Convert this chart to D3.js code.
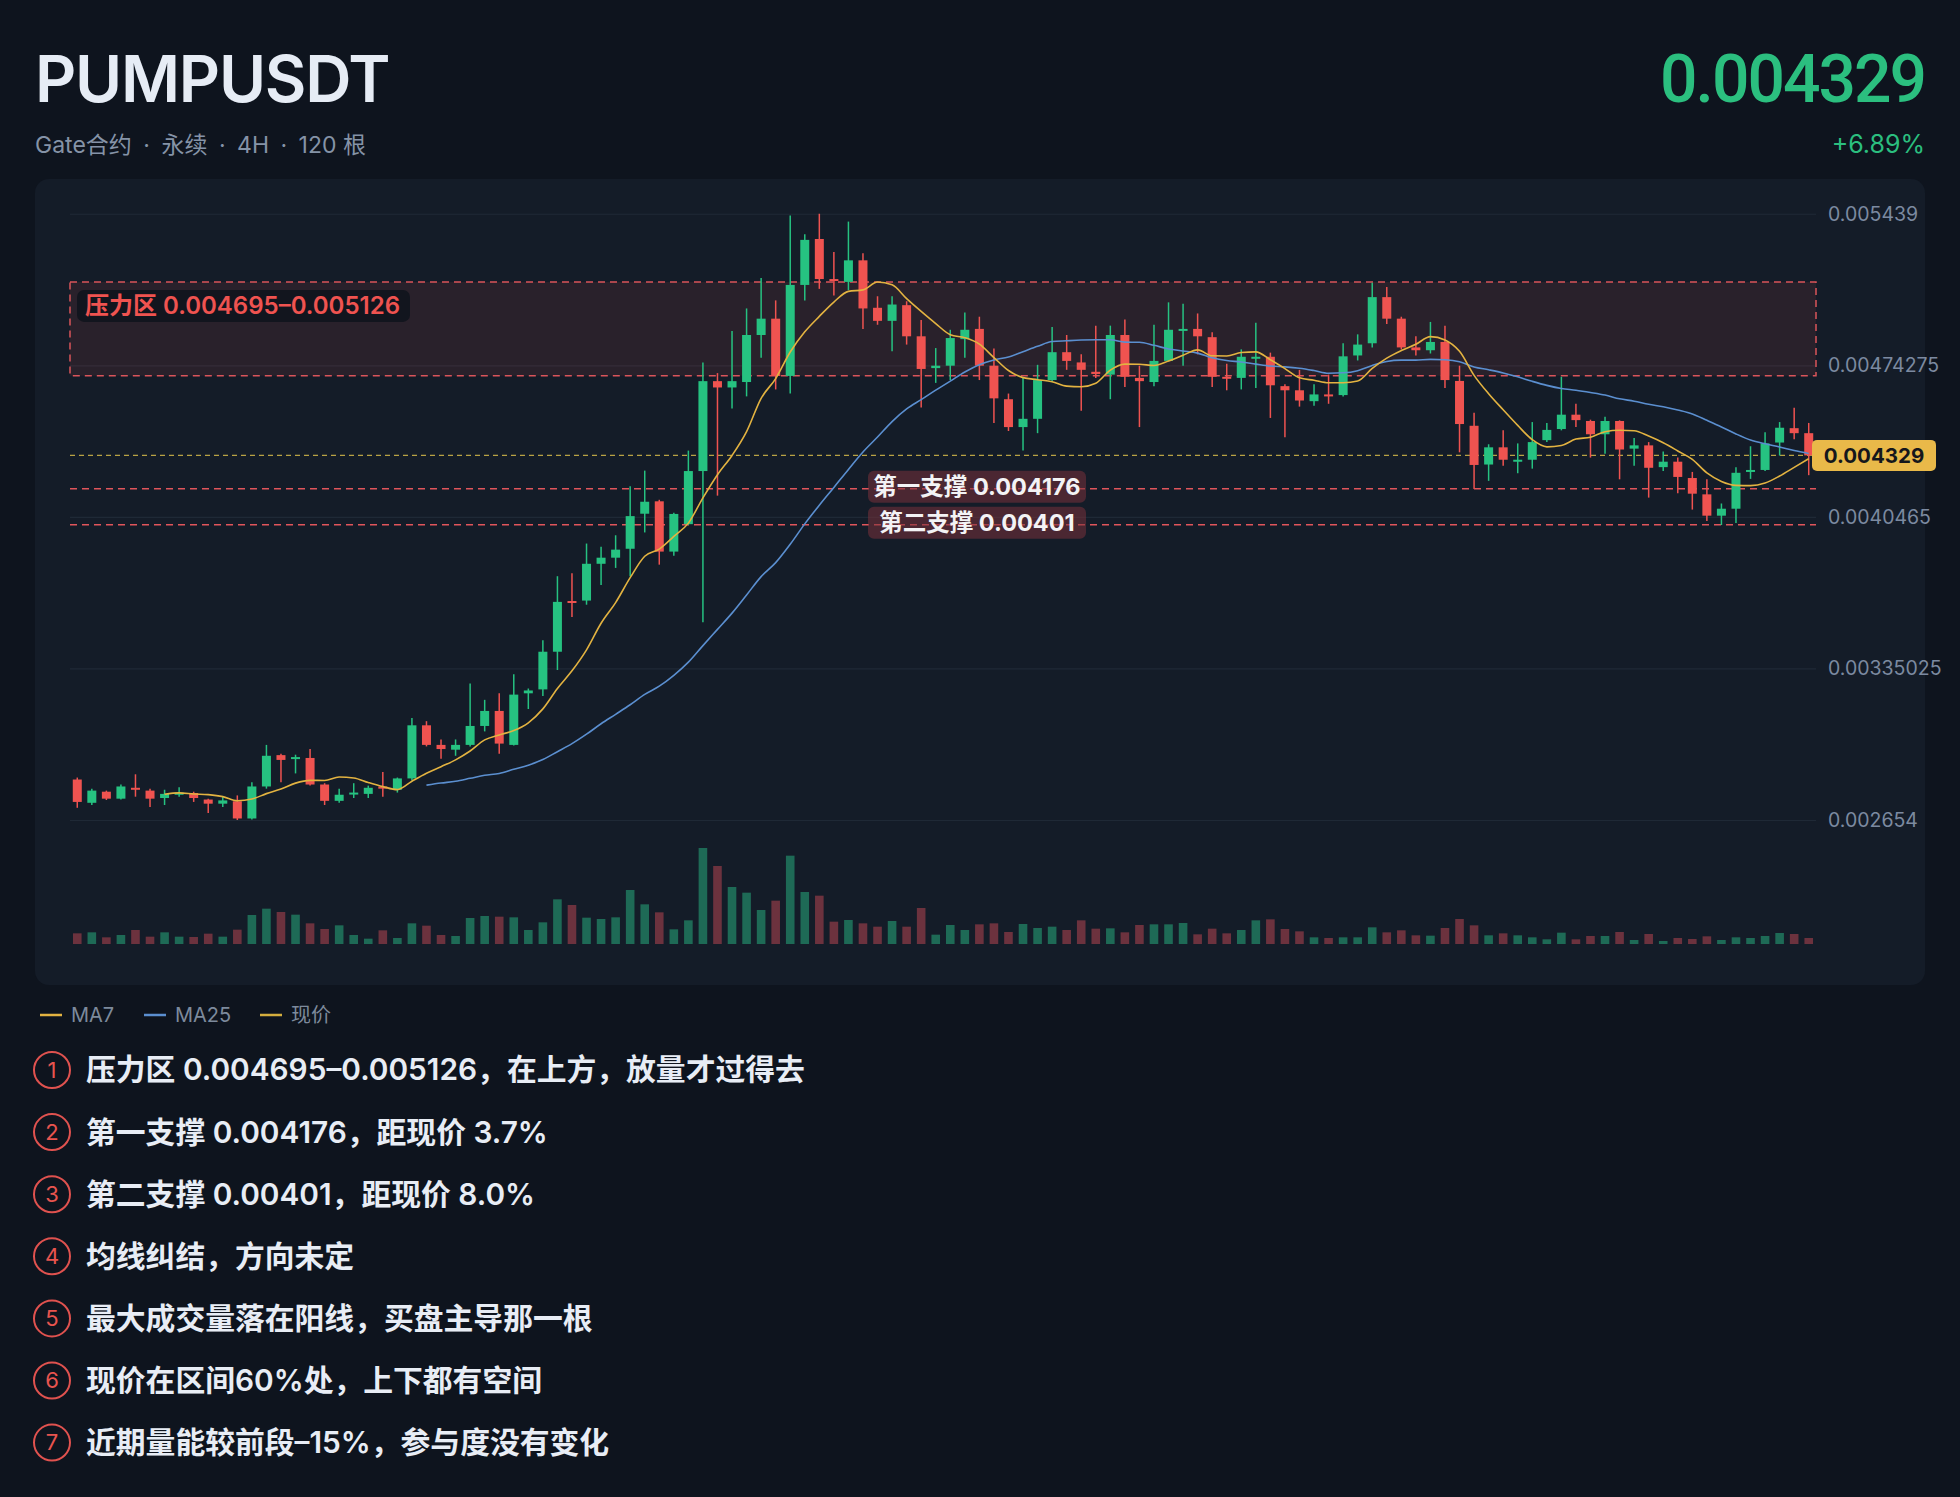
<!DOCTYPE html>
<html><head><meta charset="utf-8">
<script src="https://cdn.jsdelivr.net/npm/d3@7"></script>
<style>
html,body{margin:0;padding:0;background:#0e141e;}
svg{display:block;}
</style></head>
<body>
<svg id="chart" width="1960" height="1497"></svg>
<script>
// ---------------- DATA ----------------
const symbol = "PUMPUSDT";
const subtitle = "Gate合约\u2002·\u2002永续\u2002·\u20024H\u2002·\u2002120 根";
const lastPriceLabel = "0.004329";
const changeLabel = "+6.89%";

const opens = [
0.002840,0.002733,0.002784,0.002752,0.002802,0.002789,0.002755,0.002770,0.002778,0.002748,
0.002729,0.002740,0.002661,0.002808,0.002952,0.002935,0.002939,0.002817,0.002742,0.002774,
0.002774,0.002808,0.002793,0.002845,0.003089,0.002999,0.002977,0.002999,0.003086,0.003155,
0.002999,0.003236,0.003254,0.003427,0.003660,0.003662,0.003831,0.003859,0.003900,0.004061,
0.004118,0.003887,0.004013,0.004257,0.004670,0.004641,0.004666,0.004882,0.004957,0.004694,
0.005112,0.005323,0.005139,0.005126,0.005225,0.005007,0.004947,0.005019,0.004876,0.004730,
0.004741,0.004863,0.004910,0.004741,0.004587,0.004459,0.004497,0.004675,0.004803,0.004756,
0.004713,0.004700,0.004882,0.004685,0.004666,0.004763,0.004904,0.004910,0.004872,0.004690,
0.004685,0.004775,0.004782,0.004647,0.004628,0.004578,0.004609,0.004606,0.004788,0.004844,
0.005056,0.004957,0.004825,0.004812,0.004850,0.004671,0.004465,0.004287,0.004366,0.004300,
0.004309,0.004399,0.004450,0.004516,0.004487,0.004426,0.004487,0.004360,0.004375,0.004275,
0.004300,0.004225,0.004150,0.004052,0.004084,0.004253,0.004262,0.004388,0.004454,0.004431];

const highs = [
0.002849,0.002798,0.002789,0.002817,0.002864,0.002798,0.002793,0.002804,0.002784,0.002752,
0.002761,0.002767,0.002827,0.002999,0.002958,0.002954,0.002980,0.002823,0.002798,0.002823,
0.002812,0.002874,0.002849,0.003123,0.003108,0.003024,0.003024,0.003281,0.003206,0.003236,
0.003324,0.003258,0.003480,0.003774,0.003787,0.003924,0.003909,0.003962,0.004187,0.004259,
0.004125,0.004065,0.004351,0.004756,0.004707,0.004900,0.005004,0.005144,0.005041,0.005431,
0.005345,0.005439,0.005263,0.005403,0.005257,0.005060,0.005060,0.005037,0.004951,0.004822,
0.004906,0.004985,0.004966,0.004820,0.004613,0.004688,0.004745,0.004919,0.004882,0.004793,
0.004925,0.004925,0.004953,0.004741,0.004929,0.005032,0.005026,0.004981,0.004895,0.004750,
0.004816,0.004938,0.004801,0.004656,0.004722,0.004656,0.004700,0.004844,0.004885,0.005122,
0.005103,0.004966,0.004876,0.004942,0.004925,0.004741,0.004525,0.004380,0.004444,0.004384,
0.004482,0.004478,0.004690,0.004566,0.004493,0.004506,0.004490,0.004409,0.004390,0.004347,
0.004319,0.004253,0.004219,0.004108,0.004275,0.004371,0.004435,0.004482,0.004548,0.004478];

const lows = [
0.002710,0.002723,0.002746,0.002748,0.002761,0.002714,0.002723,0.002761,0.002737,0.002686,
0.002714,0.002654,0.002656,0.002798,0.002827,0.002868,0.002812,0.002723,0.002733,0.002755,
0.002755,0.002761,0.002780,0.002836,0.002992,0.002935,0.002949,0.002992,0.003061,0.002958,
0.002996,0.003164,0.003224,0.003343,0.003587,0.003643,0.003733,0.003812,0.003774,0.003975,
0.003827,0.003868,0.004009,0.003562,0.004144,0.004544,0.004600,0.004778,0.004632,0.004613,
0.005041,0.005094,0.005064,0.005088,0.004910,0.004929,0.004807,0.004838,0.004549,0.004662,
0.004675,0.004778,0.004675,0.004478,0.004441,0.004351,0.004431,0.004670,0.004722,0.004534,
0.004685,0.004587,0.004643,0.004459,0.004647,0.004760,0.004741,0.004793,0.004643,0.004628,
0.004632,0.004638,0.004501,0.004412,0.004553,0.004557,0.004566,0.004600,0.004765,0.004825,
0.004932,0.004816,0.004788,0.004797,0.004638,0.004343,0.004174,0.004212,0.004281,0.004247,
0.004268,0.004390,0.004444,0.004459,0.004319,0.004337,0.004219,0.004281,0.004135,0.004257,
0.004155,0.004080,0.004028,0.004009,0.004018,0.004221,0.004257,0.004328,0.004403,0.004238];

const closes = [
0.002737,0.002789,0.002752,0.002808,0.002795,0.002752,0.002774,0.002780,0.002755,0.002729,
0.002744,0.002661,0.002808,0.002949,0.002930,0.002943,0.002817,0.002742,0.002770,0.002780,
0.002802,0.002798,0.002845,0.003089,0.002999,0.002980,0.002999,0.003086,0.003155,0.003005,
0.003230,0.003249,0.003427,0.003656,0.003652,0.003831,0.003859,0.003896,0.004050,0.004116,
0.003887,0.004060,0.004257,0.004670,0.004641,0.004670,0.004882,0.004957,0.004694,0.005112,
0.005319,0.005139,0.005131,0.005225,0.005004,0.004947,0.005022,0.004876,0.004726,0.004741,
0.004868,0.004906,0.004741,0.004591,0.004459,0.004497,0.004675,0.004803,0.004763,0.004722,
0.004703,0.004882,0.004690,0.004670,0.004763,0.004906,0.004910,0.004876,0.004690,0.004685,
0.004782,0.004782,0.004651,0.004628,0.004581,0.004609,0.004604,0.004784,0.004838,0.005056,
0.004957,0.004825,0.004812,0.004850,0.004675,0.004473,0.004285,0.004366,0.004309,0.004309,
0.004390,0.004446,0.004516,0.004491,0.004426,0.004487,0.004356,0.004375,0.004272,0.004300,
0.004230,0.004153,0.004052,0.004084,0.004249,0.004262,0.004384,0.004456,0.004431,0.004329];

const volumes = [
32,35,20,27,42,22,35,22,21,31,
22,43,87,106,96,88,62,45,56,27,
16,41,18,62,55,27,24,78,84,82,
80,42,65,134,117,79,75,80,162,119,
95,44,71,288,234,171,154,102,130,265,
156,145,67,72,62,52,69,52,108,28,
57,42,59,62,36,60,48,52,42,71,
46,47,35,57,59,59,63,29,46,32,
42,71,74,45,38,20,18,20,20,50,
35,41,26,25,48,75,56,26,32,26,
20,14,34,14,24,24,36,12,30,9,
18,15,23,12,20,18,24,33,30,18];

const priceTicks = [0.005439, 0.00474275, 0.0040465, 0.00335025, 0.002654];
const tickLabels = ["0.005439", "0.00474275", "0.0040465", "0.00335025", "0.002654"];

const pressureZone = [0.004695, 0.005126];
const pressureLabel = "压力区 0.004695–0.005126";
const supports = [0.004176, 0.00401];
const supportLabels = ["第一支撑 0.004176", "第二支撑 0.00401"];
const lastPrice = 0.004329;

const legendItems = ["MA7", "MA25", "现价"];
const notes = [
  "压力区 0.004695–0.005126，在上方，放量才过得去",
  "第一支撑 0.004176，距现价 3.7%",
  "第二支撑 0.00401，距现价 8.0%",
  "均线纠结，方向未定",
  "最大成交量落在阳线，买盘主导那一根",
  "现价在区间60%处，上下都有空间",
  "近期量能较前段–15%，参与度没有变化"
];

// ---------------- STYLE ----------------
const FONT = "Inter, 'Noto Sans CJK SC', sans-serif";
const C = {
  bg: "#0e141e", panel: "#141c28", grid: "#1f2936",
  up: "#26c281", down: "#ef5350",
  volUp: "#1e6a56", volDown: "#6c323e",
  ma7: "#e3b341", ma25: "#5b8fd0", last: "#e9b949",
  axis: "#7c8aa0", title: "#e6ecf5", sub: "#8593a7", green: "#2bbf7f",
  red: "#ef5350"
};

const svg = d3.select("#chart");
svg.append("rect").attr("width",1960).attr("height",1497).attr("fill",C.bg);

// header
svg.append("text").attr("x",35).attr("y",102).attr("font-family",FONT).attr("font-size",64)
  .attr("font-weight",600).attr("letter-spacing",-1.2).attr("fill",C.title).text(symbol);
svg.append("text").attr("x",1925).attr("y",102).attr("text-anchor","end").attr("font-family","Roboto, Inter, sans-serif")
  .attr("font-size",66).attr("font-weight",500).attr("letter-spacing",-2).attr("fill",C.green).text(lastPriceLabel);
svg.append("text").attr("x",35).attr("y",153).attr("font-family",FONT).attr("font-size",23)
  .attr("fill",C.sub).text(subtitle);
svg.append("text").attr("x",1925).attr("y",153).attr("text-anchor","end").attr("font-family",FONT)
  .attr("font-size",25).attr("fill",C.green).text(changeLabel);

// panel
svg.append("rect").attr("x",35).attr("y",179).attr("width",1890).attr("height",806)
  .attr("rx",14).attr("fill",C.panel);

const x0 = 70, x1 = 1816;
const idx = d3.range(closes.length);
const x = d3.scaleBand().domain(idx).range([x0, x1]).padding(0);
const y = d3.scaleLinear().domain([0.002654, 0.005439]).range([820, 213.75]);
const yv = d3.scaleLinear().domain([0, d3.max(volumes)]).range([944, 848]);
const cx = i => x(i) + x.bandwidth()/2;

// grid
const gridG = svg.append("g").attr("transform",`translate(${x0},0)`)
  .call(d3.axisLeft(y).tickValues(priceTicks).tickSize(-(x1-x0)).tickFormat(""));
gridG.select(".domain").remove();
gridG.selectAll("line").attr("stroke",C.grid).attr("stroke-width",1.2);

// right axis labels
const axG = svg.append("g").attr("transform",`translate(${x1},0)`)
  .call(d3.axisRight(y).tickValues(priceTicks).tickSize(0).tickPadding(12)
    .tickFormat((d,i)=>tickLabels[i]));
axG.select(".domain").remove();
axG.selectAll("text").attr("font-family",FONT).attr("font-size",19.5).attr("fill",C.axis);

// pressure zone
svg.append("rect").attr("x",x0).attr("width",x1-x0)
  .attr("y",y(pressureZone[1])).attr("height",y(pressureZone[0])-y(pressureZone[1]))
  .attr("fill","rgba(239,83,80,0.10)").attr("stroke","#d9545a").attr("stroke-width",1.5)
  .attr("stroke-dasharray","7,5");

// support lines + last price line
svg.selectAll("line.sup").data(supports).join("line").attr("class","sup")
  .attr("x1",x0).attr("x2",x1).attr("y1",d=>y(d)).attr("y2",d=>y(d))
  .attr("stroke","#e0555b").attr("stroke-width",1.5).attr("stroke-dasharray","7,5");
svg.append("line").attr("x1",x0).attr("x2",x1).attr("y1",y(lastPrice)).attr("y2",y(lastPrice))
  .attr("stroke","#b9a244").attr("stroke-width",1.2).attr("stroke-dasharray","5,4");

// volume
svg.append("g").selectAll("rect").data(idx).join("rect")
  .attr("x",i=>cx(i)-4.3).attr("width",8.6)
  .attr("y",i=>yv(volumes[i])).attr("height",i=>yv(0)-yv(volumes[i]))
  .attr("fill",i=>closes[i]>=opens[i]?C.volUp:C.volDown);

// candles
const cg = svg.append("g");
cg.selectAll("line").data(idx).join("line")
  .attr("x1",cx).attr("x2",cx).attr("y1",i=>y(highs[i])).attr("y2",i=>y(lows[i]))
  .attr("stroke",i=>closes[i]>=opens[i]?C.up:C.down).attr("stroke-width",1.5);
cg.selectAll("rect").data(idx).join("rect")
  .attr("x",i=>cx(i)-4.5).attr("width",9)
  .attr("y",i=>y(Math.max(opens[i],closes[i])))
  .attr("height",i=>Math.max(2, Math.abs(y(opens[i])-y(closes[i]))))
  .attr("fill",i=>closes[i]>=opens[i]?C.up:C.down);

// moving averages
function ma(n){ return idx.filter(i=>i>=n-1).map(i=>[i, d3.mean(closes.slice(i-n+1,i+1))]); }
const lineGen = d3.line().x(d=>cx(d[0])).y(d=>y(d[1])).curve(d3.curveMonotoneX);
svg.append("path").attr("d",lineGen(ma(25))).attr("fill","none").attr("stroke",C.ma25).attr("stroke-width",1.6);
svg.append("path").attr("d",lineGen(ma(7))).attr("fill","none").attr("stroke",C.ma7).attr("stroke-width",1.6);

// pressure label
const pl = svg.append("g");
pl.append("rect").attr("x",77).attr("y",y(pressureZone[1])+8).attr("width",333).attr("height",32).attr("rx",7)
  .attr("fill","rgba(14,19,28,0.85)");
pl.append("text").attr("x",85).attr("y",y(pressureZone[1])+24).attr("dy","0.35em")
  .attr("font-family",FONT).attr("font-size",24).attr("font-weight",600).attr("fill",C.red).text(pressureLabel);

// support labels
const sl = svg.append("g").selectAll("g").data(supports).join("g");
sl.append("rect").attr("x",868).attr("width",218).attr("y",d=>y(d)-18).attr("height",32).attr("rx",6)
  .attr("fill","rgba(120,50,58,0.55)");
sl.append("text").attr("x",977).attr("y",d=>y(d)-2).attr("dy","0.35em").attr("text-anchor","middle")
  .attr("font-family",FONT).attr("font-size",23.5).attr("font-weight",700).attr("fill","#f3f3f5")
  .text((d,i)=>supportLabels[i]);

// last price tag
svg.append("rect").attr("x",1812).attr("y",y(lastPrice)-15.5).attr("width",124).attr("height",31).attr("rx",5)
  .attr("fill",C.last);
svg.append("text").attr("x",1874).attr("y",y(lastPrice)).attr("dy","0.35em").attr("text-anchor","middle")
  .attr("font-family",FONT).attr("font-size",20.5).attr("font-weight",700).attr("fill","#15171c").text(lastPriceLabel);

// legend
const legColors = [C.ma7, C.ma25, "#d4ae3e"];
const legX = [40, 144, 260];
const lg = svg.append("g").selectAll("g").data(legendItems).join("g")
  .attr("transform",(d,i)=>`translate(${legX[i]},1015)`);
lg.append("line").attr("x1",0).attr("x2",22).attr("stroke",(d,i)=>legColors[i]).attr("stroke-width",2.5);
lg.append("text").attr("x",31).attr("dy","0.35em").attr("font-family",FONT).attr("font-size",20)
  .attr("fill","#7d8a9c").text(d=>d);

// notes
const ng = svg.append("g").selectAll("g").data(notes).join("g")
  .attr("transform",(d,i)=>`translate(0,${1070 + i*62.1})`);
ng.append("circle").attr("cx",52).attr("cy",0).attr("r",18).attr("fill","none")
  .attr("stroke","#e0524f").attr("stroke-width",2);
ng.append("text").attr("x",52).attr("dy","0.35em").attr("text-anchor","middle").attr("font-family",FONT)
  .attr("font-size",22).attr("fill","#e8544f").text((d,i)=>i+1);
ng.append("text").attr("x",86).attr("dy","0.35em").attr("font-family",FONT).attr("font-size",29.8)
  .attr("font-weight",600).attr("fill","#e8edf5").text(d=>d);
</script>
</body></html>
